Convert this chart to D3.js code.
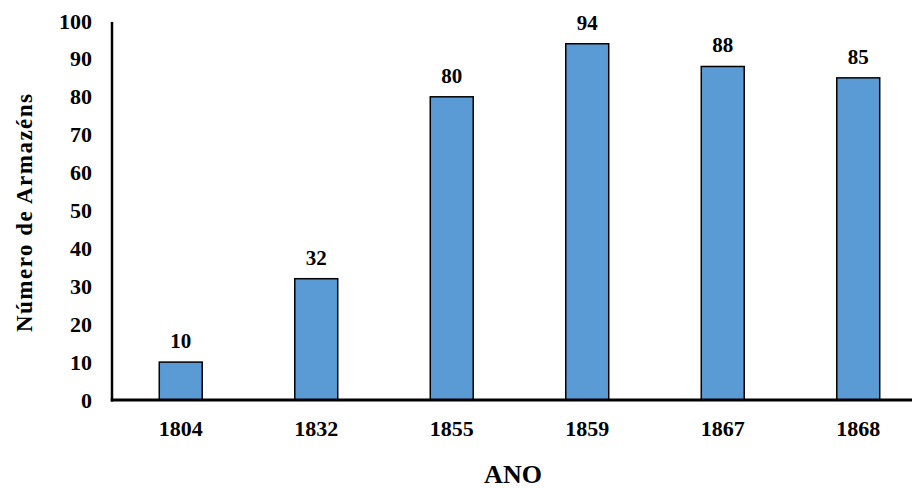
<!DOCTYPE html>
<html><head><meta charset="utf-8">
<script src="https://cdn.jsdelivr.net/npm/d3@7"></script>
<style>body{margin:0;background:#fff}svg{display:block}text{font-family:"Liberation Serif","Times New Roman",serif;font-weight:bold;fill:#000}</style>
</head><body>
<svg id="c" width="912" height="488"></svg>
<script>
const categories = ["1804","1832","1855","1859","1867","1868"];
const values = [10,32,80,94,88,85];
const yTicks = [0,10,20,30,40,50,60,70,80,90,100];

const svg = d3.select("#c");
const x = d3.scaleBand().domain(categories).range([113,926]).paddingInner(0.683).paddingOuter(0.3415);
const y = d3.scaleLinear().domain([0,100]).range([400,21]);

// bars
svg.selectAll("rect.bar").data(values).enter().append("rect")
  .attr("x",(d,i)=>x(categories[i])).attr("y",d=>y(d))
  .attr("width",x.bandwidth()).attr("height",d=>y(0)-y(d))
  .attr("fill","#5b9bd5").attr("stroke","#000").attr("stroke-width",1.5);

// data labels
svg.selectAll("text.lbl").data(values).enter().append("text")
  .attr("x",(d,i)=>x(categories[i])+x.bandwidth()/2).attr("y",d=>y(d)-14)
  .attr("text-anchor","middle").attr("font-size",21).text(d=>d);

// y axis
const yAxis = d3.axisLeft(y).tickValues(yTicks).tickSize(0).tickPadding(20);
const gy = svg.append("g").attr("transform","translate(112,0)").call(yAxis);
gy.select(".domain").remove();
gy.selectAll("text").attr("font-size",22).style("font-family","Liberation Serif").style("font-weight","bold").attr("fill","#000");
svg.append("line").attr("x1",112).attr("x2",112).attr("y1",y(100)+1).attr("y2",401.5).attr("stroke","#000").attr("stroke-width",2.5);

// x axis
const xAxis = d3.axisBottom(x).tickSize(0).tickPadding(20);
const gx = svg.append("g").attr("transform","translate(0,400)").call(xAxis);
gx.select(".domain").remove();
gx.selectAll("text").attr("font-size",22).style("font-family","Liberation Serif").style("font-weight","bold").attr("fill","#000");
svg.append("line").attr("x1",110.75).attr("x2",912).attr("y1",400).attr("y2",400).attr("stroke","#000").attr("stroke-width",3);

// titles
svg.append("text").attr("x",513).attr("y",483).attr("text-anchor","middle").attr("font-size",26).text("ANO");
svg.append("text").attr("transform","translate(32,213) rotate(-90)").attr("text-anchor","middle").attr("font-size",23)
  .attr("textLength",238).attr("lengthAdjust","spacing").text("Número de Armazéns");
</script>
</body></html>
